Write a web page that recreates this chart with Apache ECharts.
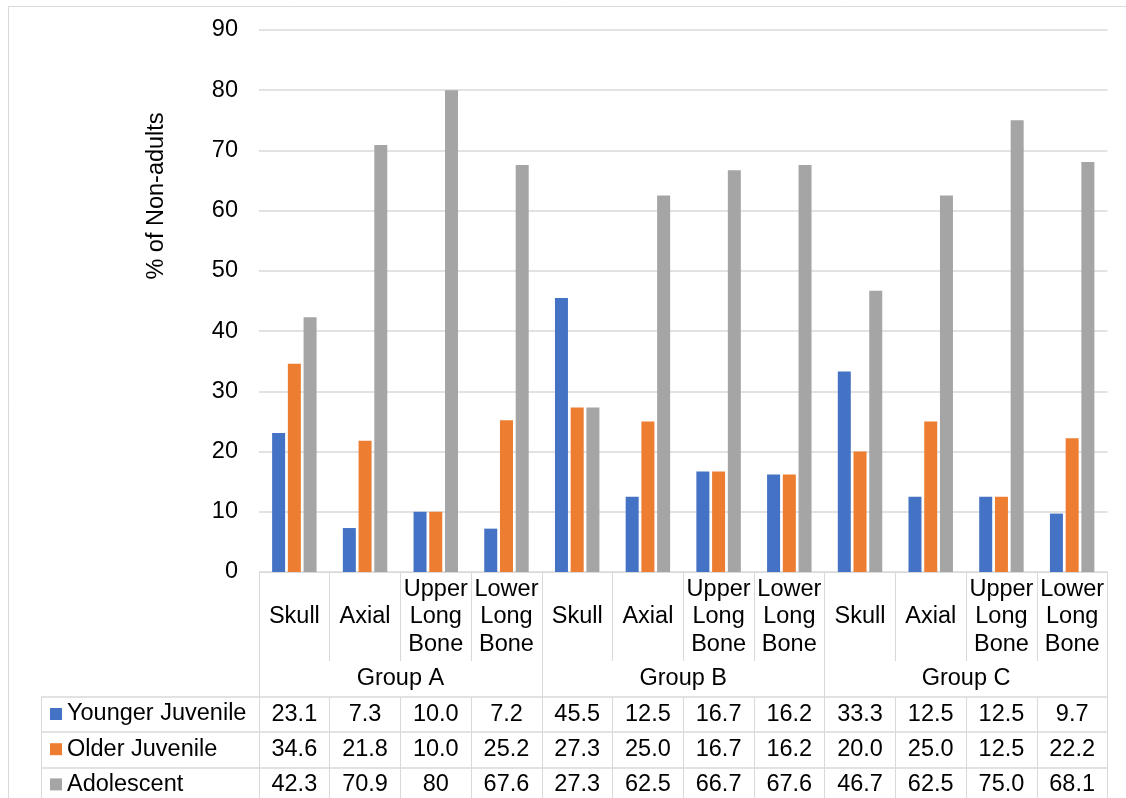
<!DOCTYPE html>
<html>
<head>
<meta charset="utf-8">
<script src="https://cdn.jsdelivr.net/npm/echarts@6/dist/echarts.min.js"></script>
<style>
  html, body { margin: 0; padding: 0; background: #fff; }
  #chart { width: 1126px; height: 798px; }
</style>
</head>
<body>
<div id="chart"></div>
<script>
// Skeletal elements per age class, three site groups
const categories = ['Skull', 'Axial', 'Upper\nLong\nBone', 'Lower\nLong\nBone',
                    'Skull', 'Axial', 'Upper\nLong\nBone', 'Lower\nLong\nBone',
                    'Skull', 'Axial', 'Upper\nLong\nBone', 'Lower\nLong\nBone'];
const groups = ['Group A', 'Group B', 'Group C'];
const seriesNames = ['Younger Juvenile', 'Older Juvenile', 'Adolescent'];

// Percentages as printed in the data table
const youngerJuvenile = ['23.1', '7.3', '10.0', '7.2', '45.5', '12.5', '16.7', '16.2', '33.3', '12.5', '12.5', '9.7'];
const olderJuvenile   = ['34.6', '21.8', '10.0', '25.2', '27.3', '25.0', '16.7', '16.2', '20.0', '25.0', '12.5', '22.2'];
const adolescent      = ['42.3', '70.9', '80', '67.6', '27.3', '62.5', '66.7', '67.6', '46.7', '62.5', '75.0', '68.1'];

const yTicks = { min: 0, max: 90, interval: 10 };

const rows = [youngerJuvenile, olderJuvenile, adolescent];
const colors = ['#4472C4', '#ED7D31', '#A5A5A5'];
const FONT = '"Liberation Sans", Arial, sans-serif';
const FS = 23.5;
const LINE = '#d9d9d9';
const TXT = '#000000';

const chart = echarts.init(document.getElementById('chart'), null, { renderer: 'canvas' });

const idx = categories.map((c, i) => i);

// one hidden-line axis per table row, printing that row's values under each column
const rowOffsets = [125, 160.5, 195.5];
const rowAxes = rows.map((row, r) => ({
  type: 'category',
  gridIndex: 0,
  position: 'bottom',
  offset: rowOffsets[r],
  data: idx,
  axisLine: { show: false },
  axisTick: { show: r === 0, interval: 0, length: 110, lineStyle: { color: LINE, width: 1 } },
  axisLabel: {
    interval: 0, margin: 17.5, verticalAlign: 'middle',
    fontFamily: FONT, fontSize: FS, color: TXT,
    formatter: (v, i) => row[i]
  },
  splitLine: { show: false }
}));

// legend key of each table row, placed in the row's first cell
const legendTops = [701, 736.2, 771.4];
const legends = seriesNames.map((name, r) => ({
  orient: 'vertical',
  left: 50,
  top: legendTops[r],
  data: [name],
  icon: 'rect',
  itemWidth: 12,
  itemHeight: 12,
  padding: 0,
  selectedMode: false,
  textStyle: { fontFamily: FONT, fontSize: FS, color: TXT, lineHeight: 26 }
}));

const option = {
  animation: false,
  backgroundColor: '#ffffff',
  textStyle: { fontFamily: FONT },
  grid: [
    { left: 259, width: 848.5, top: 30, height: 542, outerBoundsMode: 'none', containLabel: false },
    // table body rows (horizontal rules incl. legend column)
    { left: 41.5, width: 1066, top: 697, height: 105.6, outerBoundsMode: 'none', containLabel: false }
  ],
  legend: legends,
  xAxis: [
    {
      type: 'category',
      gridIndex: 0,
      position: 'bottom',
      data: categories,
      axisLine: { show: true, lineStyle: { color: LINE, width: 1 } },
      axisTick: { show: true, interval: 0, length: 89, lineStyle: { color: LINE, width: 1 } },
      axisLabel: {
        interval: 0, margin: 45, verticalAlign: 'middle', align: 'center',
        fontFamily: FONT, fontSize: FS, lineHeight: 27.5, color: TXT
      },
      splitLine: { show: false }
    },
    {
      type: 'category',
      gridIndex: 0,
      position: 'bottom',
      data: groups,
      axisLine: { show: false },
      axisTick: { show: true, interval: 0, length: 226, lineStyle: { color: LINE, width: 1 } },
      axisLabel: {
        interval: 0, margin: 107, verticalAlign: 'middle',
        fontFamily: FONT, fontSize: FS, color: TXT
      },
      splitLine: { show: false }
    },
    ...rowAxes,
    {
      type: 'category',
      gridIndex: 1,
      data: [''],
      axisLine: { show: false },
      axisTick: { show: false },
      axisLabel: { show: false },
      splitLine: { show: false }
    }
  ],
  yAxis: [
    {
      type: 'value',
      gridIndex: 0,
      min: yTicks.min,
      max: yTicks.max,
      interval: yTicks.interval,
      axisLine: { show: false },
      axisTick: { show: false },
      axisLabel: { margin: 21, fontFamily: FONT, fontSize: FS, color: TXT },
      splitLine: { show: true, lineStyle: { color: LINE, width: 1.5 } }
    },
    {
      type: 'value',
      gridIndex: 1,
      min: 0,
      max: 3,
      interval: 1,
      inverse: true,
      axisLine: { show: true, lineStyle: { color: LINE, width: 1 } },
      axisTick: { show: false },
      axisLabel: { show: false },
      splitLine: { show: true, lineStyle: { color: LINE, width: 1.5 } }
    }
  ],
  series: rows.map((row, r) => ({
    name: seriesNames[r],
    type: 'bar',
    xAxisIndex: 0,
    yAxisIndex: 0,
    data: row.map(Number),
    barWidth: 13,
    barGap: '21%',
    itemStyle: { color: colors[r] }
  })),
  graphic: [
    {
      type: 'rect',
      silent: true,
      shape: { x: 8.5, y: 6.5, width: 1300, height: 900 },
      style: { fill: 'none', stroke: LINE, lineWidth: 1 }
    },
    {
      type: 'text',
      silent: true,
      x: 157,
      y: 196,
      rotation: Math.PI / 2,
      style: {
        text: '% of Non-adults',
        fontFamily: FONT,
        fontSize: FS,
        fill: TXT,
        align: 'center',
        verticalAlign: 'middle'
      }
    }
  ]
};

chart.setOption(option);
</script>
</body>
</html>
